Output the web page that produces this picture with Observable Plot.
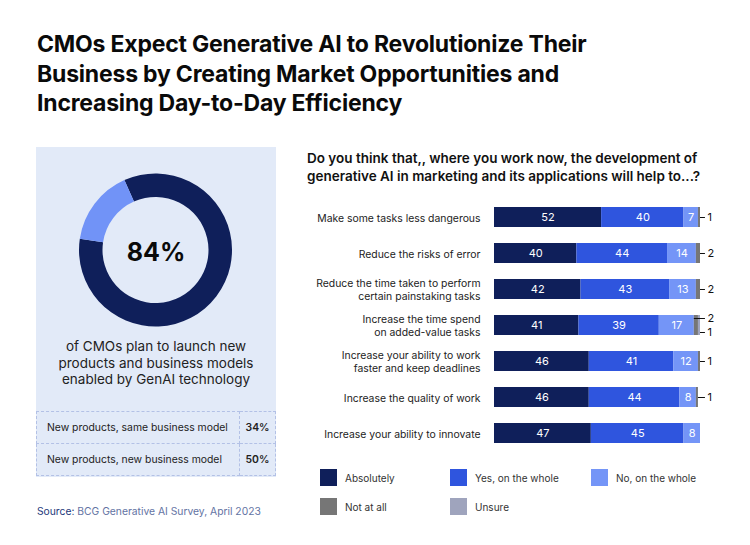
<!DOCTYPE html>
<html><head><meta charset="utf-8">
<script src="https://cdn.jsdelivr.net/npm/d3@7"></script>
<script src="https://cdn.jsdelivr.net/npm/@observablehq/plot@0.6"></script>
<style>
body{margin:0;background:#fff;font-family:Inter,"Noto Sans",sans-serif;color:#111;}
#root{position:relative;width:750px;height:545px;overflow:hidden}
.abs{position:absolute}
#title{left:37px;top:30px;font-size:23px;font-weight:700;line-height:29.5px;letter-spacing:-0.2px;color:#0a0a0a;white-space:nowrap}
#panel{left:36px;top:147px;width:240px;height:330px;background:#e2eaf8}
#donut{left:0;top:0}
#big{left:0;width:240px;top:90px;text-align:center;font-size:25px;font-weight:700;color:#0a0a0a}
#desc{left:0;width:240px;top:191px;text-align:center;font-size:13.5px;line-height:16.5px;color:#222;white-space:nowrap}
table{position:absolute;left:0;top:264px;width:240px;border-collapse:collapse;font-size:10.4px;color:#222;table-layout:fixed}
td{border:1px dashed #b3c1e6;height:31px;padding:0;white-space:nowrap}
td.l{width:192px;padding-left:10px}
td.r{text-align:center;font-weight:600}
#question{left:307px;top:149px;font-size:13.5px;font-weight:600;line-height:18px;color:#111;white-space:nowrap}
#chart{left:300px;top:199px}
#legend{left:320px;top:469px;width:420px;height:50px;font-size:10px;color:#333}
.item{position:absolute;display:flex;align-items:center;white-space:nowrap}
.sw{width:17px;height:17px;margin-right:8px}
#source{left:37px;top:505px;font-size:10.3px;color:#6373a3}
#source b{font-weight:400;color:#22387a}
</style></head>
<body><div id="root">
<div id="title" class="abs">CMOs Expect Generative AI to Revolutionize Their<br>Business by Creating Market Opportunities and<br>Increasing Day-to-Day Efficiency</div>
<div id="panel" class="abs">
  <div id="donut" class="abs"></div>
  <div id="big" class="abs"></div>
  <div id="desc" class="abs">of CMOs plan to launch new<br>products and business models<br>enabled by GenAI technology</div>
  <table id="tbl"></table>
</div>
<div id="question" class="abs">Do you think that,, where you work now, the development of<br>generative AI in marketing and its applications will help to...?</div>
<div id="chart" class="abs"></div>
<div id="legend" class="abs"></div>
<div id="source" class="abs"><b>Source:</b> BCG Generative AI Survey, April 2023</div>
</div>
<script>
// ---- data ----
const donutLabels = ["Plan to launch", "Other"];
const donutValues = [84, 16];
const donutColors = ["#0f1f5a", "#7193f7"];
const tableLabels = ["New products, same business model", "New products, new business model"];
const tableValues = [34, 50];

const categories = [
  "Make some tasks less dangerous",
  "Reduce the risks of error",
  "Reduce the time taken to perform\ncertain painstaking tasks",
  "Increase the time spend\non added-value tasks",
  "Increase your ability to work\nfaster and keep deadlines",
  "Increase the quality of work",
  "Increase your ability to innovate"
];
const series = ["Absolutely", "Yes, on the whole", "No, on the whole", "Not at all", "Unsure"];
const colors = ["#0f1f5a", "#2f55de", "#7495f7", "#767676", "#9fa4bd"];
const absolutely = [52, 40, 42, 41, 46, 46, 47];
const yesWhole   = [40, 44, 43, 39, 41, 44, 45];
const noWhole    = [7, 14, 13, 17, 12, 8, 8];
const notAtAll   = [1, 2, 2, 2, 1, 1, 0];
const unsure     = [0, 0, 0, 1, 0, 0, 0];

// ---- donut ----
const FONT = 'Inter,"Noto Sans",sans-serif';
{
  const w = 240, h = 190, cx = 119.5, cy = 103;
  const svg = d3.select("#donut").append("svg").attr("width", w).attr("height", h);
  const pie = d3.pie().sort(null).startAngle(-24 * Math.PI / 180).endAngle(336 * Math.PI / 180);
  const arc = d3.arc().innerRadius(53).outerRadius(76.5);
  svg.append("g").attr("transform", `translate(${cx},${cy})`)
    .selectAll("path").data(pie(donutValues)).join("path")
    .attr("d", arc).attr("fill", (d, i) => donutColors[i]);
  document.getElementById("big").textContent = donutValues[0] + "%";
}
// ---- table ----
{
  const tbl = document.getElementById("tbl");
  tableLabels.forEach((l, i) => {
    const tr = document.createElement("tr");
    tr.innerHTML = `<td class="l">${l}</td><td class="r">${tableValues[i]}%</td>`;
    tbl.appendChild(tr);
  });
}
// ---- bars ----
const valuesBySeries = [absolutely, yesWhole, noWhole, notAtAll, unsure];
const rows = [];
categories.forEach((c, i) => series.forEach((s, j) => rows.push({cat: c, series: s, value: valuesBySeries[j][i]})));

// outside labels for small segments
const single = [], upper = [], lower = [];
categories.forEach((c, i) => {
  let cum = 0; const small = [];
  series.forEach((s, j) => {
    const v = valuesBySeries[j][i];
    if (v > 0 && v < 5) small.push({cat: c, value: v, start: cum, end: cum + v});
    cum += v;
  });
  const total = cum;
  if (small.length === 1) single.push({...small[0], from: total});
  else if (small.length === 2) {
    upper.push({...small[0], from: small[0].start});
    lower.push({...small[1], from: total});
  }
});
const LX = 102.4;
function leader(data, dy) {
  return [
    Plot.ruleY(data, {y: "cat", x1: "from", x2: LX, dy, stroke: "#111", strokeWidth: 1}),
    Plot.text(data, {y: "cat", x: LX, dy, dx: 2, text: d => String(d.value), textAnchor: "start", fill: "#111", fontSize: 11})
  ];
}

const chart = Plot.plot({
  width: 440, height: 252,
  marginLeft: 194, marginRight: 40, marginTop: 0, marginBottom: 0,
  x: {domain: [0, 100], axis: null},
  y: {domain: categories, axis: null, paddingInner: 0.44, paddingOuter: 0.22},
  color: {domain: series, range: colors},
  style: {fontFamily: FONT, fontSize: "11px", background: "transparent"},
  marks: [
    Plot.barX(rows, Plot.stackX({x: "value", y: "cat", fill: "series", order: series})),
    Plot.text(rows, Plot.stackX({x: "value", y: "cat", z: "series", order: series,
      text: d => d.value >= 5 ? String(d.value) : "", fill: "white", fontSize: 11})),
    Plot.text(categories, {x: 0, y: d => d, text: d => d, textAnchor: "end", dx: -14,
      fill: "#222", fontSize: 10.4, lineHeight: 1.22}),
    ...leader(single, 0),
    ...leader(upper, -7),
    ...leader(lower, 7)
  ]
});
document.getElementById("chart").appendChild(chart);

// ---- legend ----
{
  const pos = [[0, 0], [130, 0], [271, 0], [0, 29], [130, 29]];
  const lg = document.getElementById("legend");
  series.forEach((s, i) => {
    const d = document.createElement("div");
    d.className = "item";
    d.style.left = pos[i][0] + "px"; d.style.top = pos[i][1] + "px";
    d.innerHTML = `<div class="sw" style="background:${colors[i]}"></div><span>${s}</span>`;
    lg.appendChild(d);
  });
}
</script>
</body></html>
